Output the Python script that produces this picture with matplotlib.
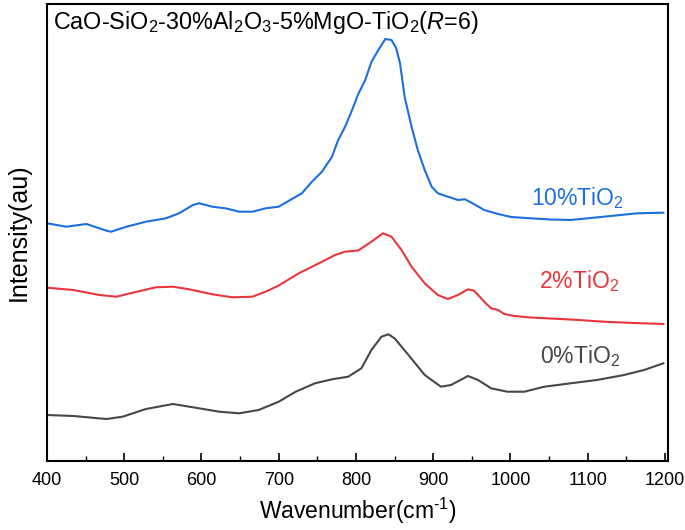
import matplotlib
matplotlib.use("Agg")
import matplotlib.pyplot as plt
from matplotlib.ticker import MultipleLocator

plt.rcParams['font.family'] = ['Liberation Sans', 'DejaVu Sans']
plt.rcParams['mathtext.fontset'] = 'custom'
plt.rcParams['mathtext.rm'] = 'Liberation Sans'
plt.rcParams['mathtext.it'] = 'Liberation Sans:italic'
plt.rcParams['mathtext.default'] = 'regular'

# 10% TiO2 (blue)
wn_10 = [400, 425, 451, 477, 483, 503, 528, 554, 571, 589, 597, 614, 631, 649, 666, 683, 700,
         717, 730, 743, 756, 769, 777, 786, 795, 803, 812, 820, 829, 838, 846, 852, 857, 863,
         872, 880, 889, 898, 906, 919, 932, 941, 951, 966, 984, 1001, 1026, 1052, 1078, 1121,
         1164, 1198]
int_10 = [237.7, 234.3, 237, 230.3, 229.3, 234.3, 239.3, 242.7, 247.7, 256, 257.7, 254.3, 252.7,
          249.3, 249.3, 252.7, 254.3, 262, 267.7, 279.3, 289.3, 304.3, 321, 334.3, 351, 367, 381,
          399, 411, 422, 421, 413, 398, 364.3, 334.3, 311, 291, 274.3, 267.7, 264.3, 261, 261.7,
          257.7, 251, 247, 244, 242.7, 241.5, 241, 244.3, 247.7, 248.3]

# 2% TiO2 (red)
wn_2 = [400, 434, 468, 490, 511, 541, 563, 584, 614, 640, 666, 683, 700, 726, 752, 773, 786, 803,
        820, 835, 846, 859, 872, 889, 906, 919, 932, 945, 953, 966, 975, 984, 992, 1005, 1026,
        1078, 1121, 1160, 1198]
int_2 = [173.3, 171, 166, 164.3, 168.3, 173.7, 174.3, 171.7, 166.7, 163.7, 164.3, 169.3, 175.5,
         187.7, 197.7, 206, 209.3, 210.5, 219.3, 227.7, 224.3, 211, 194.3, 177.7, 166, 162, 166,
         171.7, 170.3, 159.3, 152.7, 151, 147, 145, 143.5, 141.5, 139.3, 138, 137]

# 0% TiO2 (gray)
wn_0 = [400, 434, 477, 498, 528, 563, 589, 623, 649, 674, 700, 722, 747, 769, 790, 807, 820, 833,
        842, 850, 868, 889, 910, 923, 945, 958, 975, 996, 1018, 1044, 1078, 1112, 1147, 1173, 1198]
int_0 = [46, 45, 42, 44.3, 52, 57, 53.7, 49.3, 47.7, 51, 59.3, 69.3, 77.7, 81.7, 84.3, 92.7, 111,
         124.3, 126.7, 122.7, 106, 86, 74.3, 76, 85, 81, 72.7, 69.3, 69.3, 74.3, 77.7, 81, 86, 91,
         97.7]

labels = ['10%TiO$_2$', '2%TiO$_2$', '0%TiO$_2$']
colors = ['#1c6fdc', '#e8363c', '#474747']

fig = plt.figure(figsize=(6.85, 5.30), dpi=100)
ax = fig.add_axes([47/685, 1 - 461/530, 621/685, 457/530])

for wn, it, c in zip([wn_10, wn_2, wn_0], [int_10, int_2, int_0], colors):
    ax.plot(wn, it, color=c, lw=1.5)

ax.set_xlim(400, 1204)
ax.set_ylim(0, 457)
ax.xaxis.set_major_locator(MultipleLocator(100))
ax.xaxis.set_minor_locator(MultipleLocator(50))
ax.tick_params(axis='x', which='major', direction='in', length=6, width=1.2, labelsize=13, pad=8,
               top=False)
ax.tick_params(axis='x', which='minor', direction='in', length=3.5, width=1.0, top=False)
ax.set_yticks([])
for s in ax.spines.values():
    s.set_linewidth(1.5)

ax.set_xlabel('Wavenumber(cm$^{\\text{-}1}$)', fontsize=16.5, labelpad=5)
ax.set_ylabel('Intensity(au)', fontsize=18, labelpad=12)

ax.text(407.5, 439, 'CaO-SiO$_2$-30%Al$_2$O$_3$-5%MgO-TiO$_2$($\\mathit{R}$=6)', fontsize=16.8,
        ha='left', va='center')

label_pos = [(1147, 263), (1141, 180), (1142, 105)]
for (x, y), t, c in zip(label_pos, labels, colors):
    ax.text(x, y, t, color=c, fontsize=16.5, ha='right', va='center')

fig.savefig('out.png', dpi=100)
